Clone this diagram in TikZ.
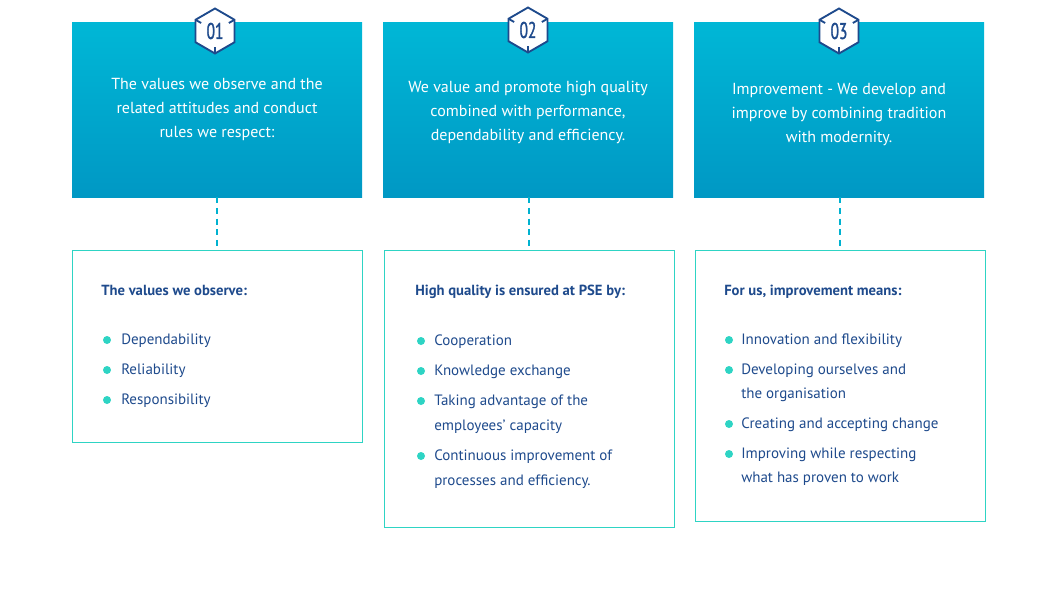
\documentclass[tikz,border=0pt]{standalone}
\usepackage{fontspec}
\setmainfont{PT Sans}
\newfontfamily\numfont[FakeStretch=0.68,FakeBold=1.2]{PT Sans}
\usetikzlibrary{shapes.geometric,calc}

\definecolor{azulosc}{RGB}{30,74,140}
\definecolor{cianA}{RGB}{0,183,214}
\definecolor{cianB}{RGB}{0,152,196}
\definecolor{turq}{RGB}{46,212,196}
\definecolor{guion}{RGB}{0,178,208}

\tikzset{
  cabecera/.style={minimum width=217.5pt, minimum height=131.25pt, inner sep=0pt,
    top color=cianA, bottom color=cianB},
  textocab/.style={text=white, align=center,
    font=\fontsize{12}{18}\selectfont},
  detalle/.style={draw=turq, line width=0.75pt, minimum width=217.5pt, inner sep=0pt},
  hexa/.style={regular polygon, regular polygon sides=6, shape border rotate=30,
    minimum size=33.75pt, inner sep=0pt, draw=azulosc, fill=white, line width=1.4pt,
    text=azulosc, font=\numfont\fontsize{17}{17}\selectfont},
  titulo/.style={anchor=base west, text=azulosc, inner sep=0pt,
    font=\bfseries\fontsize{11}{11}\selectfont},
  linea/.style={anchor=base west, text=azulosc, inner sep=0pt,
    font=\fontsize{11.25}{11.25}\selectfont},
  conector/.style={draw=guion, line width=0.8pt, dash pattern=on 4.5pt off 3.5pt}
}

\begin{document}
\begin{tikzpicture}[x=0.75pt,y=-0.75pt]
\useasboundingbox (0,0) rectangle (1057,590);

%cajas de arriba con degradado
\node[cabecera] (cab1) at (217,109.5) {};
\node[cabecera] (cab2) at (528,109.5) {};
\node[cabecera] (cab3) at (839,109.5) {};

%texto de las cajas de arriba
\node[textocab] (tc1) at (217,109) {The values we observe and the\\ related attitudes and conduct\\ rules we respect:};
\node[textocab] (tc2) at (528,112) {We value and promote high quality\\ combined with performance,\\ dependability and efficiency.};
\node[textocab] (tc3) at (839,115) {Improvement - We develop and\\ improve by combining tradition\\ with modernity.};

%hexagonos con el numero
\node[hexa] (hex1) at (215,31) {01};
\node[hexa] (hex2) at (528,30) {02};
\node[hexa] (hex3) at (839,31) {03};
\foreach \n in {1,2,3}
{
  \draw[azulosc, line width=1.4pt] ($(hex\n.center)+(210:22)$) -- ($(hex\n.center)+(210:16)$);
  \draw[azulosc, line width=1.4pt] ($(hex\n.center)+(330:22)$) -- ($(hex\n.center)+(330:16)$);
  \draw[azulosc, line width=1.4pt] ($(hex\n.center)+(90:22)$) -- ($(hex\n.center)+(90:16)$);
}

%cajas de abajo
\node[detalle, minimum height=144pt] (det1) at (217,346) {};
\node[detalle, minimum height=207.75pt] (det2) at (529,388.5) {};
\node[detalle, minimum height=203.25pt] (det3) at (840,385.5) {};

%lineas discontinuas entre cajas
\foreach \n in {1,2,3}
  \draw[conector] (det\n.north |- cab\n.south) -- (det\n.north);

%titulos
\node[titulo] (tit1) at (101,295) {The values we observe:};
\node[titulo] (tit2) at (415,295) {High quality is ensured at PSE by:};
\node[titulo] (tit3) at (724,295) {For us, improvement means:};

%lista de la caja 1
\foreach \y/\t [count=\i] in {344/Dependability, 374/Reliability, 404/Responsibility}
  \node[linea] (l1-\i) at (121,\y) {\t};
\foreach \y in {340,370,400}
  \fill[turq] (107,\y) circle (3pt);

%lista de la caja 2
\foreach \y/\t [count=\i] in {345/Cooperation, 375/Knowledge exchange, 405/Taking advantage of the,
    430/employees’ capacity, 460/Continuous improvement of, 485/processes and efficiency.}
  \node[linea] (l2-\i) at (434,\y) {\t};
\foreach \y in {341,371,401,456}
  \fill[turq] (421,\y) circle (3pt);

%lista de la caja 3
\foreach \y/\t [count=\i] in {344/Innovation and flexibility, 374/Developing ourselves and, 398/the organisation,
    428/Creating and accepting change, 458/Improving while respecting, 482/what has proven to work}
  \node[linea] (l3-\i) at (741,\y) {\t};
\foreach \y in {340,370,424,454}
  \fill[turq] (729,\y) circle (3pt);
\end{tikzpicture}
\end{document}
